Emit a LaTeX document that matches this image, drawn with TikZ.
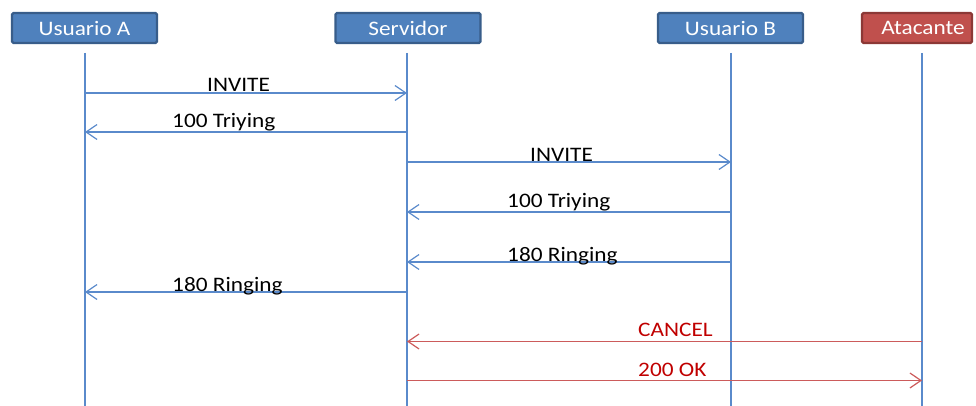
\documentclass[tikz,border=0pt]{standalone}
\usepackage{fontspec}
\setmainfont{Carlito}[FakeStretch=1.13]
\usetikzlibrary{arrows.meta}
\definecolor{boxblue}{HTML}{4F81BD}
\definecolor{boxblueedge}{HTML}{385D8A}
\definecolor{boxred}{HTML}{C0504D}
\definecolor{boxrededge}{HTML}{8C3836}
\definecolor{lineblue}{HTML}{5A8ACB}
\definecolor{linered}{HTML}{CC5B5B}
\definecolor{txtred}{HTML}{C00000}
\begin{document}
\begin{tikzpicture}[x=1pt,y=-1pt,
  every node/.style={font=\fontsize{20.6}{24}\selectfont},
  actor/.style={draw=boxblueedge, fill=boxblue, line width=2.2pt, rounded corners=1.5pt,
    minimum height=30pt, inner sep=0pt, text=white},
  redactor/.style={actor, draw=boxrededge, fill=boxred},
  life/.style={draw=lineblue, line width=1.4pt},
  msg/.style={draw=lineblue, line width=1.3pt, -{Straight Barb[length=11pt,width=15pt,line width=1.2pt]}},
  redmsg/.style={msg, draw=linered},
  lbl/.style={anchor=base west, inner sep=0pt, text=black},
  redlbl/.style={lbl, text=txtred}]
\useasboundingbox (0,0) rectangle (976,406);
% actors
\node[actor, minimum width=145pt] (ua) at (84.5,28) {Usuario A};
\node[actor, minimum width=145pt] (sv) at (408,28) {Servidor};
\node[actor, minimum width=145pt] (ub) at (730.5,28) {Usuario B};
\node[redactor, minimum width=110pt] (at) at (917,28) {\hspace*{12pt}Atacante};
% lifelines
\coordinate (A) at (85,53);
\coordinate (S) at (407,53);
\coordinate (B) at (731,53);
\coordinate (T) at (922,53);
\coordinate (Ae) at (85,406);
\coordinate (Se) at (407,406);
\coordinate (Be) at (731,406);
\coordinate (Te) at (922,406);
\draw[life] (A) -- (Ae);
\draw[life] (S) -- (Se);
\draw[life] (B) -- (Be);
\draw[life] (T) -- (Te);
% messages
\draw[msg] (A |- 0,93) -- (S |- 0,93);
\node[lbl] (l1) at (207,92) {INVITE};
\draw[msg] (S |- 0,132) -- (A |- 0,132);
\node[lbl] (l2) at (172,128) {100 Triying};
\draw[msg] (S |- 0,162) -- (B |- 0,162);
\node[lbl] (l3) at (530,161) {INVITE};
\draw[msg] (B |- 0,212) -- (S |- 0,212);
\node[lbl] (l4) at (507,207) {100 Triying};
\draw[msg] (B |- 0,262) -- (S |- 0,262);
\node[lbl] (l5) at (507,261) {180 Ringing};
\draw[msg] (S |- 0,292) -- (A |- 0,292);
\node[lbl] (l6) at (172,291) {180 Ringing};
\draw[redmsg] (T |- 0,341.5) -- (S |- 0,341.5);
\node[redlbl] (l7) at (638,336.5) {CANCEL};
\draw[redmsg] (S |- 0,380.5) -- (T |- 0,380.5);
\node[redlbl] (l8) at (638,376) {200 OK};
\end{tikzpicture}
\end{document}
